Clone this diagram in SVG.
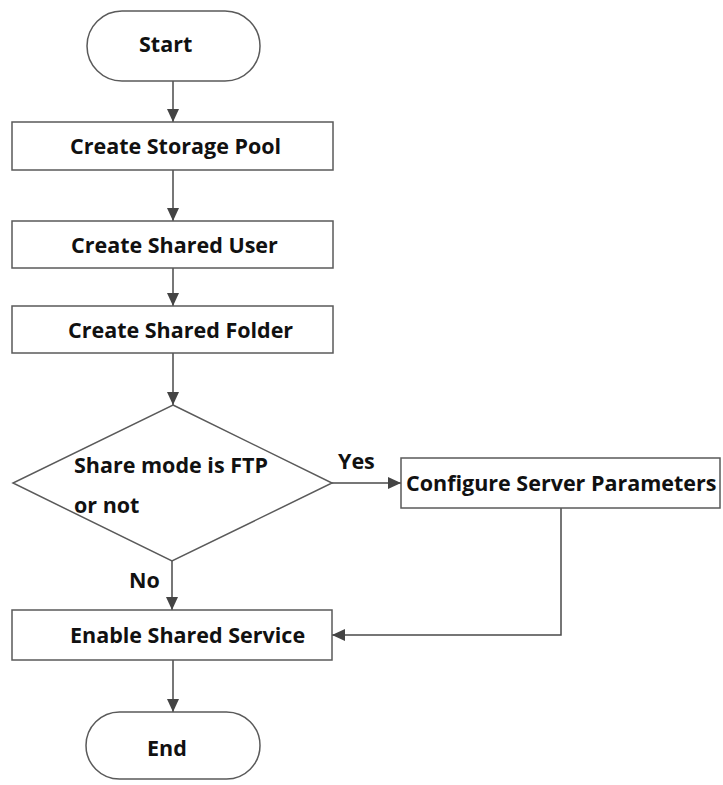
<svg xmlns="http://www.w3.org/2000/svg" width="723" height="785" viewBox="0 0 723 785">
<style>
  .box { fill: #ffffff; stroke: #5a5a5a; stroke-width: 1.5; }
  .t { font-family: "Open Sans", "Noto Sans", "Liberation Sans", sans-serif; font-weight: 700; font-size: 21.5px; fill: #111111; }
  .c { fill: none; stroke: #4a4a4a; stroke-width: 1.5; }
</style>
<defs>
  <marker id="arr" viewBox="0 0 13 13" refX="13" refY="6.5" markerWidth="13" markerHeight="13" markerUnits="userSpaceOnUse" orient="auto">
    <path d="M0,0.5 L13,6.5 L0,12.5 z" fill="#444444"/>
  </marker>
</defs>
<rect width="723" height="785" fill="#ffffff"/>
<g id="connectors">
  <line class="c" x1="173" y1="81" x2="173" y2="122" marker-end="url(#arr)"/>
  <line class="c" x1="173" y1="170" x2="173" y2="221" marker-end="url(#arr)"/>
  <line class="c" x1="173" y1="268" x2="173" y2="306" marker-end="url(#arr)"/>
  <line class="c" x1="173" y1="353" x2="173" y2="405" marker-end="url(#arr)"/>
  <line class="c" x1="332" y1="483" x2="401" y2="483" marker-end="url(#arr)"/>
  <line class="c" x1="172" y1="561" x2="172" y2="610" marker-end="url(#arr)"/>
  <polyline class="c" points="561,508 561,635 332,635" marker-end="url(#arr)"/>
  <line class="c" x1="173" y1="660" x2="173" y2="712" marker-end="url(#arr)"/>
  <text class="t" x="338" y="469">Yes</text>
  <text class="t" x="129" y="588">No</text>
</g>
<g id="start">
  <rect class="box" x="87" y="11" width="173" height="70" rx="35"/>
  <text class="t" x="139" y="52">Start</text>
</g>
<g id="pool">
  <rect class="box" x="12" y="122" width="321" height="48"/>
  <text class="t" x="70" y="154">Create Storage Pool</text>
</g>
<g id="user">
  <rect class="box" x="12" y="221" width="321" height="47"/>
  <text class="t" x="71" y="253">Create Shared User</text>
</g>
<g id="folder">
  <rect class="box" x="12" y="306" width="321" height="47"/>
  <text class="t" x="68" y="338">Create Shared Folder</text>
</g>
<g id="decision">
  <polygon class="box" points="173,405 332,483 172,561 13,483"/>
  <text class="t" x="74" y="473">Share mode is FTP</text>
  <text class="t" x="74" y="513">or not</text>
</g>
<g id="configure">
  <rect class="box" x="401" y="458" width="319" height="50"/>
  <text class="t" x="406" y="491">Configure Server Parameters</text>
</g>
<g id="enable">
  <rect class="box" x="12" y="610" width="320" height="50"/>
  <text class="t" x="70" y="643">Enable Shared Service</text>
</g>
<g id="end">
  <rect class="box" x="86" y="712" width="174" height="67" rx="33.5"/>
  <text class="t" x="147" y="756">End</text>
</g>
</svg>
